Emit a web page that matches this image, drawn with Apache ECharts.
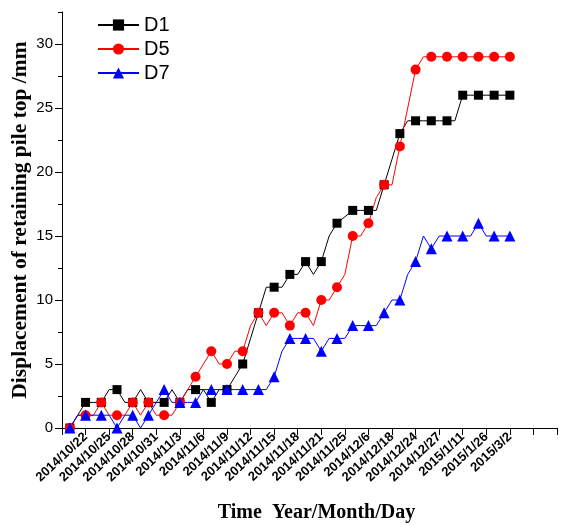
<!DOCTYPE html>
<html>
<head>
<meta charset="utf-8">
<script src="https://cdn.jsdelivr.net/npm/echarts@6/dist/echarts.min.js"></script>
<style>html,body{margin:0;padding:0;background:#fff}#c{width:567px;height:525px}</style>
</head>
<body>
<div id="c"></div>
<script>
// Tick labels (one every 3 steps on the x axis)
const dateLabels = ['2014/10/22','2014/10/25','2014/10/28','2014/10/31','2014/11/3','2014/11/6','2014/11/9','2014/11/12','2014/11/15','2014/11/18','2014/11/21','2014/11/25','2014/12/6','2014/12/18','2014/12/24','2014/12/27','2015/1/11','2015/1/26','2015/3/2'];
const seriesNames = ['D1','D5','D7'];
// Displacement values (mm), one per step; markers on every other step
const d1 = [0,1,2,2,2,3,3,2,2,3,2,2,2,3,2,3,3,3,2,3,3,4,5,7,9,11,11,11,12,12,13,12,13,15,16,16.5,17,17,17,17,19,21,23,24,24,24,24,24,24,24,26,26,26,26,26,26,26];
const d5 = [0,1,1,1,2,1,1,1,2,1,2,1,1,1,2,3,4,5,6,5,5,6,6,8,9,8,9,9,8,9,9,8,10,10,11,12,15,15,16,18,19,19,22,25,28,29,29,29,29,29,29,29,29,29,29,29,29];
const d7 = [0,1,1,1,1,1,0,1,1,0,1,2,3,2,2,2,2,3,3,3,3,3,3,3,3,3,4,6,7,7,7,7,6,7,7,7,8,8,8,8,9,10,10,12,13,15,14,15,15,15,15,15,16,15,15,15,15];

const chart = echarts.init(document.getElementById('c'), null, {renderer: 'canvas'});
const toPts = arr => arr.map((v, i) => [i + 1, v]);
const markSize = s => (val, p) => (p.dataIndex % 2 === 0 ? s : 0);

const mk = (name, data, color, symbol, size) => ({
  name, type: 'line', data: toPts(data), symbol,
  symbolSize: markSize(size),
  showAllSymbol: true,
  lineStyle: {color, width: 1},
  itemStyle: {color},
  emphasis: {disabled: true},
  animation: false
});

chart.setOption({
  animation: false,
  backgroundColor: '#fff',
  grid: {left: 62, right: 10, top: 12, bottom: 97, containLabel: false, outerBoundsMode: 'none'},
  legend: {
    orient: 'vertical', left: 97, top: 15, padding: 0, itemWidth: 41, itemHeight: 14, itemGap: 4,
    textStyle: {fontSize: 20, fontFamily: 'Liberation Sans', color: '#000'},
    data: seriesNames
  },
  xAxis: {
    type: 'value', min: 0, max: 63, interval: 3,
    name: 'Time  Year/Month/Day', nameLocation: 'middle', nameGap: 75, nameMoveOverlap: false,
    nameTextStyle: {fontFamily: 'Liberation Serif', fontWeight: 'bold', fontSize: 20, color: '#000', padding: [0,0,0,14]},
    axisLine: {lineStyle: {color: '#000', width: 1}},
    axisTick: {length: 7, lineStyle: {color: '#000'}},
    splitLine: {show: false},
    axisLabel: {
      rotate: 43, margin: 7, fontSize: 13, fontWeight: 'bold', fontFamily: 'Liberation Sans', color: '#000',
      formatter: v => { const k = Math.round(v / 3) - 1; return dateLabels[k] || ''; }
    }
  },
  yAxis: [{
    type: 'value', min: 0, max: 32.5, interval: 2.5,
    name: 'Displacement of retaining pile top /mm', nameLocation: 'middle', nameGap: 31, nameMoveOverlap: false,
    nameTextStyle: {fontFamily: 'Liberation Serif', fontWeight: 'bold', fontSize: 21.5, color: '#000'},
    axisLine: {show: true, lineStyle: {color: '#000', width: 1}},
    axisTick: {show: true, length: 4, lineStyle: {color: '#000'}},
    splitLine: {show: false},
    axisLabel: {margin: 9, fontSize: 15, fontFamily: 'Liberation Sans', color: '#000',
      formatter: v => (v % 5 === 0 ? String(v) : '')}
  }, {
    type: 'value', min: 0, max: 32.5, interval: 2.5, position: 'left',
    axisLine: {show: false},
    axisTick: {show: true, length: 7, lineStyle: {color: '#000'}, customValues: [0,5,10,15,20,25,30]},
    axisLabel: {show: false},
    splitLine: {show: false}
  }],
  series: [
    mk('D1', d1, '#000000', 'rect', 9),
    mk('D5', d5, '#ff0000', 'circle', 10),
    mk('D7', d7, '#0000ff', 'triangle', 11)
  ]
});
</script>
</body>
</html>
